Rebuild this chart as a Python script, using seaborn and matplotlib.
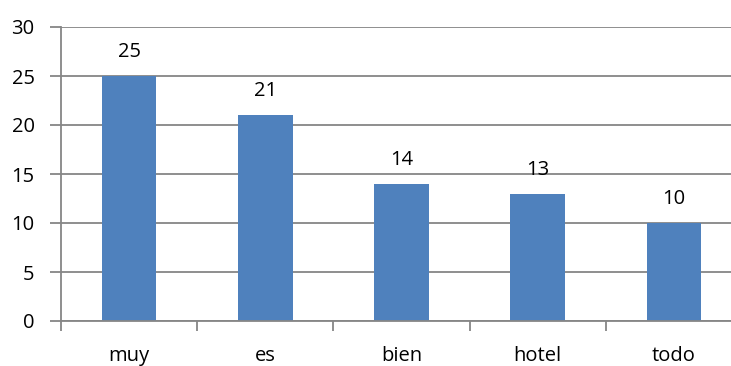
import matplotlib
matplotlib.use("Agg")
import matplotlib.pyplot as plt
import seaborn as sns
import numpy as np
import pandas as pd

categories = ["muy", "es", "bien", "hotel", "todo"]
counts = [25, 21, 14, 13, 10]
y_ticks = [0, 5, 10, 15, 20, 25, 30]

sns.set_style("white")
plt.rcParams["font.family"] = ["Open Sans", "DejaVu Sans"]

W, H = 731, 366
fig = plt.figure(figsize=(W / 100, H / 100), dpi=100)
ax = fig.add_axes([61 / W, (H - 321) / H, (742 - 61) / W, (321 - 27) / H])

df = pd.DataFrame({"word": categories, "count": counts})
sns.barplot(data=df, x="word", y="count", ax=ax, color="#4F81BD",
            saturation=1, width=0.4, edgecolor="none")

grid_c = "#868686"
fs = 14.5
ax.set_ylim(0, 30)
ax.set_xlim(-0.5, len(categories) - 0.5)
ax.set_yticks(y_ticks)
ax.yaxis.grid(True, color=grid_c, linewidth=1.3)
ax.set_axisbelow(True)

for s in ["top", "right"]:
    ax.spines[s].set_visible(False)
for s in ["left", "bottom"]:
    ax.spines[s].set_color(grid_c)
    ax.spines[s].set_linewidth(1.3)

ax.tick_params(axis="y", direction="out", length=8, width=1.3, color=grid_c,
               labelsize=fs, labelcolor="black", pad=11, left=True)
ax.tick_params(axis="x", which="major", length=0, labelsize=fs,
               labelcolor="black", pad=18)
ax.set_xticks(np.arange(-0.5, len(categories), 1.0), minor=True)
ax.tick_params(axis="x", which="minor", direction="out", length=7, width=1.3,
               color=grid_c, bottom=True)

ax.set_xlabel("")
ax.set_ylabel("")

for c in ax.containers:
    ax.bar_label(c, labels=[str(v) for v in counts], padding=10, fontsize=fs,
                 color="black")

fig.savefig("out.png", dpi=100)
